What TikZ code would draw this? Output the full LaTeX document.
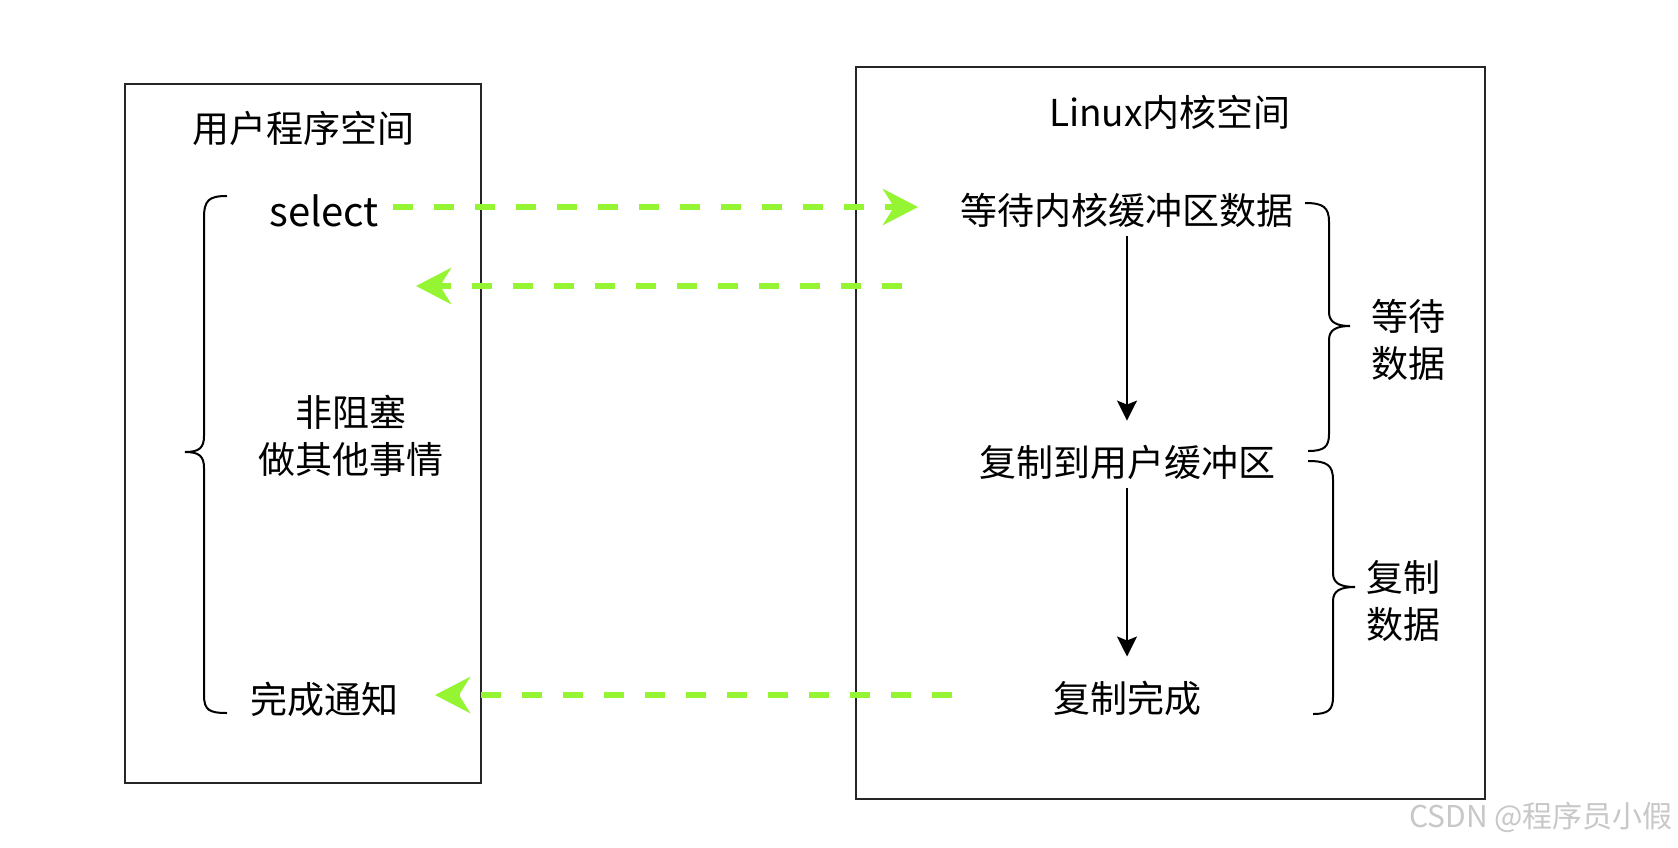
\documentclass[tikz,border=0pt]{standalone}
\usepackage{fontspec}
\setmainfont{Noto Sans CJK SC}
\usetikzlibrary{arrows.meta}
\definecolor{dgreen}{RGB}{150,245,50}
\definecolor{wmark}{RGB}{200,200,200}
\tikzset{
  panel/.style={draw=black!85, line width=2pt, minimum width=#1},
  lbl/.style={inner sep=0pt, font=\fontsize{37}{47}\selectfont, align=center},
  selbl/.style={inner sep=0pt, font=\fontsize{40}{47}\selectfont},
  garrow/.style={draw=dgreen, line width=6.5pt, dash pattern=on 20pt off 21pt,
    -{Stealth[length=35pt, width=36pt, inset=11pt, fill=dgreen]}},
  varrow/.style={draw=black, line width=2pt, -{Stealth[length=20pt, width=20pt, inset=4pt]},
    shorten <=9pt, shorten >=24pt},
  brace/.style={draw=black, line width=2pt}
}
\begin{document}
\begin{tikzpicture}[x=1pt,y=-1pt]
\fill[white] (0,0) rectangle (1678,847);
\useasboundingbox (0,0) rectangle (1678,847);

% panels
\node[panel=356pt, minimum height=699pt] (ubox) at (303,433.5) {};
\node[panel=629pt, minimum height=732pt] (kbox) at (1170.5,433) {};

% titles
\node[lbl] (utitle) at (303,128) {用户程序空间};
\node[lbl] (ktitle) at (1170,112) {Linux内核空间};

% left texts
\node[selbl] (sel) at (324,211) {select};
\node[lbl] (nb) at (351,436) {非阻塞\\做其他事情};
\node[lbl] (notify) at (324,699) {完成通知};

% right texts
\node[lbl] (wait) at (1127,210) {等待内核缓冲区数据};
\node[lbl] (copy) at (1127,462) {复制到用户缓冲区};
\node[lbl] (done) at (1127,698) {复制完成};
\node[lbl] (waitlbl) at (1408,340) {等待\\数据};
\node[lbl] (copylbl) at (1403,601) {复制\\数据};

% vertical arrows
\draw[varrow] (wait.south) -- (copy.north);
\draw[varrow] (copy.south) -- (done.north);

% green arrows
\coordinate (g1s) at (393,207);
\coordinate (g1e) at (918,207);
\coordinate (g2s) at (902,286);
\coordinate (g2e) at (416,286);
\coordinate (g3s) at (952,695);
\coordinate (g3e) at (435,695);
\draw[garrow] (g1s) -- (g1e);
\draw[garrow] (g2s) -- (g2e);
\draw[garrow] (g3s) -- (g3e);

% left brace
\draw[brace] (227,196) .. controls (209,196) and (204,200) .. (204,218)
  -- (204,436) .. controls (204,448) and (199,452) .. (185,452)
  .. controls (199,452) and (204,456) .. (204,468)
  -- (204,695) .. controls (204,710) and (209,713) .. (227,713);

% right upper brace
\draw[brace] (1305,203) .. controls (1323,203) and (1329,207) .. (1329,222)
  -- (1329,312) .. controls (1329,322) and (1336,326) .. (1350,326)
  .. controls (1336,326) and (1329,330) .. (1329,340)
  -- (1329,434) .. controls (1329,447) and (1324,451) .. (1308,451);

% right lower brace
\draw[brace] (1308,461) .. controls (1327,461) and (1333,465) .. (1333,480)
  -- (1333,573) .. controls (1333,583) and (1340,587) .. (1355,587)
  .. controls (1340,587) and (1333,591) .. (1333,601)
  -- (1333,697) .. controls (1333,710) and (1328,714) .. (1313,714);

% watermark
\node[inner sep=0pt, anchor=east, text=wmark, font=\fontsize{30}{34}\selectfont] (wm) at (1673,817) {CSDN @程序员小假};
\end{tikzpicture}
\end{document}
